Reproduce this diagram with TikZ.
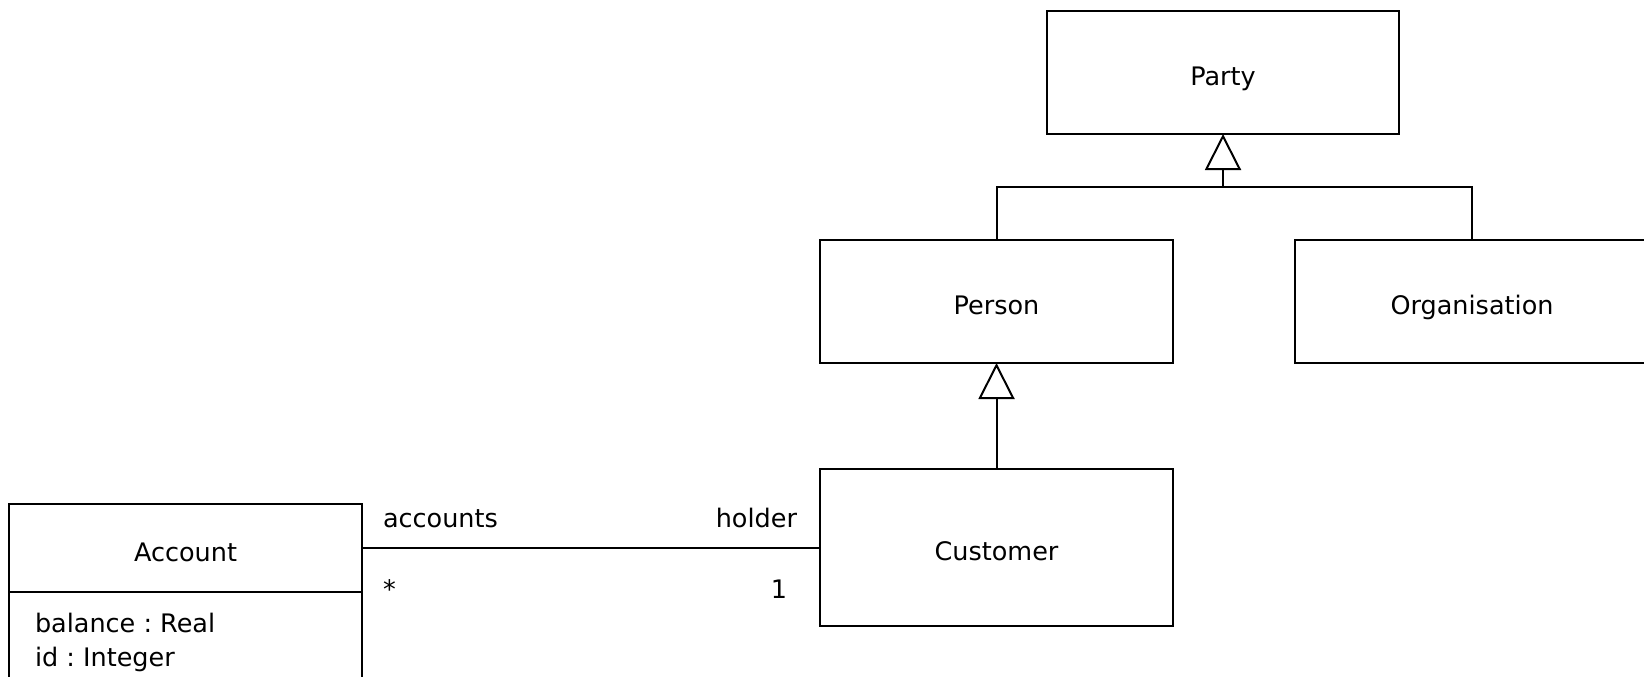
\documentclass[tikz,border=0pt]{standalone}
\usepackage{fontspec}
\setmainfont{DejaVu Sans}
\usetikzlibrary{arrows.meta}
\begin{document}
\frenchspacing
\begin{tikzpicture}[x=1pt,y=-1pt,
  every node/.style={font=\fontsize{25.5}{30}\selectfont},
  cls/.style={draw, line width=2pt, inner sep=0pt, outer sep=0pt, text height=26pt, text depth=0pt},
  lbl/.style={inner sep=0pt, outer sep=0pt},
  conn/.style={line width=2pt},
  gen/.style={conn, -{Triangle[open, length=36pt, width=36pt, line width=2pt]}}]
\useasboundingbox (0,0) rectangle (1644,677);
\clip (0,0) rectangle (1644,677);
\node[cls, minimum width=352pt, minimum height=123pt] (party) at (1223,72.5) {Party};
\node[cls, minimum width=353pt, minimum height=123pt] (person) at (996.5,301.5) {Person};
\node[cls, minimum width=354pt, minimum height=123pt] (org) at (1472,301.5) {Organisation};
\node[cls, minimum width=353pt, minimum height=157pt] (cust) at (996.5,547.5) {Customer};
\node[cls, minimum width=353pt, minimum height=88pt] (acc) at (185.5,548) {Account};
\node[draw, line width=2pt, inner sep=0pt, outer sep=0pt, minimum width=353pt, minimum height=100pt, anchor=north] (attrs) at (acc.south) {};
\node[lbl, anchor=base west] (bal) at (35,632) {balance : Real};
\node[lbl, anchor=base west] (id) at (35,666) {id : Integer};
% generalisation
\coordinate (j) at (1223,187);
\draw[conn] (person.north) -- (person.north |- j) -- (org.north |- j) -- (org.north);
\draw[gen] (j) -- (party.south);
\draw[gen] (cust.north) -- (person.south);
% association
\draw[conn] (acc.east) -- (acc.east -| cust.west);
\node[lbl, anchor=base west] (rolea) at (383,527) {accounts};
\node[lbl, anchor=base east] (roleh) at (797,527) {holder};
\node[lbl, anchor=base west] (multa) at (383,598) {*};
\node[lbl, anchor=base east] (multh) at (787,598) {1};
\end{tikzpicture}
\end{document}
